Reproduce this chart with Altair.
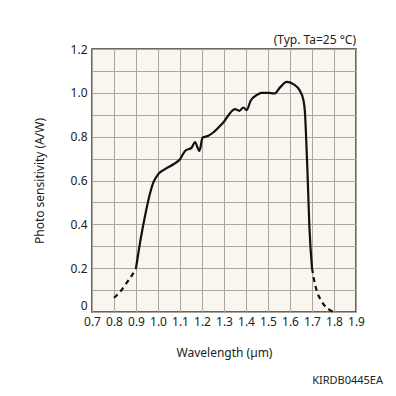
import altair as alt
import pandas as pd

# Solid portion of the spectral response curve
solid_wl = [0.90, 0.921, 0.941, 0.961, 0.979, 1.001, 1.032, 1.07, 1.10, 1.123, 1.153, 1.168,
            1.188, 1.203, 1.229, 1.251, 1.297, 1.35, 1.37, 1.388, 1.403, 1.421, 1.449,
            1.471, 1.501, 1.529, 1.555, 1.585, 1.615, 1.645, 1.66, 1.668, 1.673, 1.679,
            1.688, 1.70]
solid_s = [0.20, 0.332, 0.438, 0.53, 0.591, 0.629, 0.652, 0.674, 0.697, 0.735, 0.75, 0.775,
           0.735, 0.796, 0.804, 0.819, 0.865, 0.926, 0.918, 0.933, 0.921, 0.964, 0.99,
           1.0, 1.0, 0.997, 1.025, 1.05, 1.04, 1.009, 0.971, 0.91, 0.804, 0.652,
           0.393, 0.20]

# Dashed (extrapolated) tails
left_wl = [0.80, 0.83, 0.858, 0.88, 0.90]
left_s = [0.065, 0.095, 0.134, 0.165, 0.20]
right_wl = [1.70, 1.712, 1.724, 1.74, 1.759, 1.78, 1.797]
right_s = [0.20, 0.135, 0.089, 0.055, 0.027, 0.01, 0.0]

solid = pd.DataFrame({"wl": solid_wl, "s": solid_s})
dashed = pd.concat([
    pd.DataFrame({"wl": left_wl, "s": left_s, "seg": "left"}),
    pd.DataFrame({"wl": right_wl, "s": right_s, "seg": "right"}),
])

x_ticks = [0.7, 0.8, 0.9, 1.0, 1.1, 1.2, 1.3, 1.4, 1.5, 1.6, 1.7, 1.8, 1.9]
y_grid = [0.0, 0.1, 0.2, 0.3, 0.4, 0.5, 0.6, 0.7, 0.8, 0.9, 1.0, 1.1, 1.2]

FONT = "Noto Sans"
TXT = "#222222"
GRID = "#aaa69f"

xs = alt.X("wl:Q", scale=alt.Scale(domain=[0.7, 1.9], nice=False, zero=False),
           axis=alt.Axis(values=x_ticks, format=".1f", title="Wavelength (µm)",
                         grid=True, gridColor=GRID, gridWidth=1, labelOverlap=False,
                         labelBound=False, labelFlush=False,
                         ticks=False, domain=False, labelPadding=4,
                         labelFontSize=12, titleFontSize=12, titleFontWeight="normal",
                         titlePadding=20, labelColor=TXT, titleColor=TXT,
                         labelFont=FONT, titleFont=FONT))
ys = alt.Y("s:Q", scale=alt.Scale(domain=[0, 1.2], nice=False),
           axis=alt.Axis(values=y_grid, labelOverlap=False, labelFlush=False,
                         labelExpr="round(datum.value*10) % 2 == 0 ? (datum.value == 0 ? '0' : format(datum.value, '.1f')) : ''",
                         labelBaseline={"condition": {"test": "datum.value == 0", "value": "bottom"},
                                        "value": "middle"},
                         title="Photo sensitivity (A/W)",
                         grid=True, gridColor=GRID, gridWidth=1,
                         ticks=False, domain=False, labelPadding=5,
                         labelFontSize=12, titleFontSize=12, titleFontWeight="normal",
                         titlePadding=24, labelColor=TXT, titleColor=TXT,
                         labelFont=FONT, titleFont=FONT))

solid_line = alt.Chart(solid).mark_line(color="#111", strokeWidth=2.2, interpolate="monotone").encode(x=xs, y=ys)
dashed_line = alt.Chart(dashed).mark_line(color="#111", strokeWidth=2.2, strokeDash=[5, 4],
                                          interpolate="monotone").encode(
    x=xs, y=ys, detail="seg:N")

note = alt.Chart(pd.DataFrame({"t": ["(Typ. Ta=25 °C)"]})).mark_text(
    align="right", baseline="middle", fontSize=12, font=FONT, color=TXT
).encode(x=alt.value(264), y=alt.value(-9), text="t:N")

code = alt.Chart(pd.DataFrame({"t": ["KIRDB0445EA"]})).mark_text(
    align="right", baseline="middle", fontSize=11, font=FONT, color=TXT
).encode(x=alt.value(291), y=alt.value(332), text="t:N")

chart = alt.layer(solid_line, dashed_line, note, code).properties(
    width=264, height=263,
    autosize=alt.AutoSizeParams(type="none"),
    padding={"left": 84, "top": 41, "right": 32, "bottom": 76},
).configure_view(
    fill="#f8f6ef", stroke="#3a3431", strokeWidth=1.5
)

chart.save("out.html", embed_options={"renderer": "svg", "actions": False})
